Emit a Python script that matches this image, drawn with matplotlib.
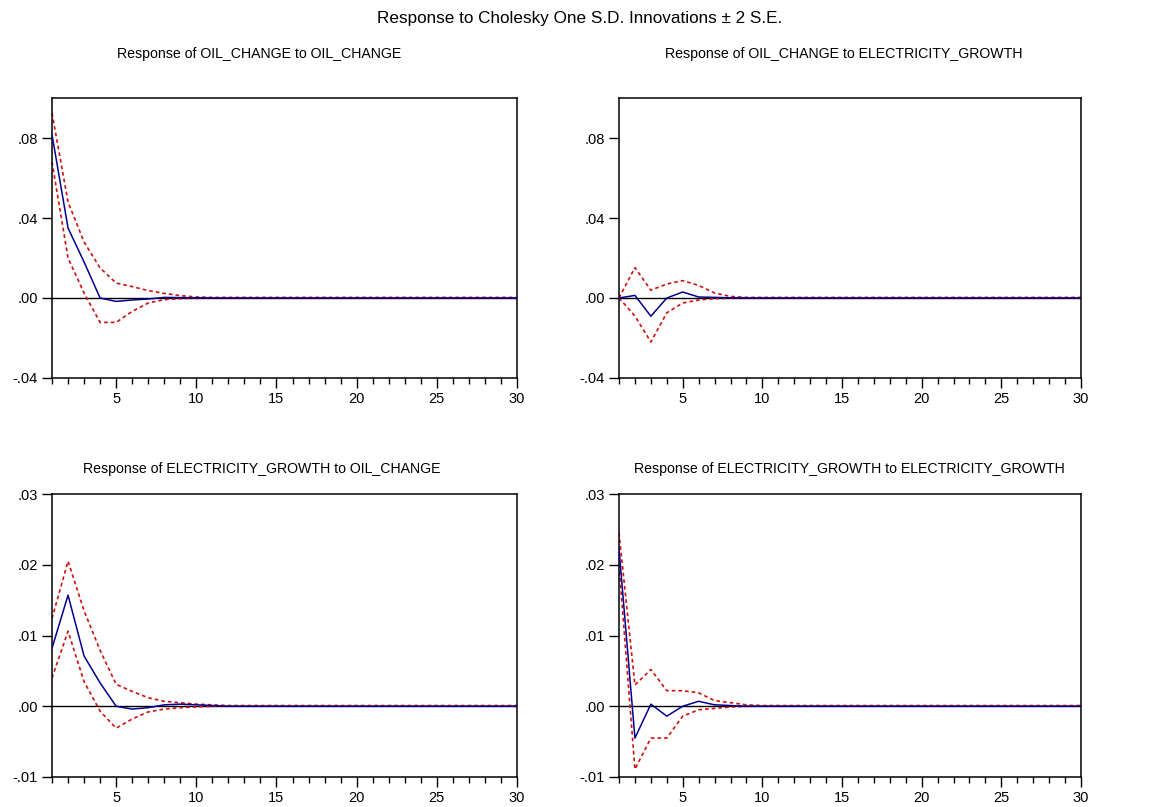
import matplotlib

matplotlib.use("Agg")
import matplotlib.pyplot as plt
from matplotlib.ticker import FixedLocator, MultipleLocator, FuncFormatter

plt.rcParams["font.family"] = ["Liberation Sans", "DejaVu Sans"]

PERIODS = list(range(1, 31))

# Response of OIL_CHANGE to OIL_CHANGE
oil_oil = [0.0817, 0.035, 0.018, 0.0, -0.0017, -0.001, -0.0005, 0.0003, 0.0002, 0.0001] + [0.0] * 20
oil_oil_hi = [0.0925, 0.048, 0.028, 0.015, 0.0075, 0.0057, 0.0037, 0.0023, 0.0012, 0.0005] + [0.0003] * 20
oil_oil_lo = [0.068, 0.02, 0.0025, -0.0122, -0.0122, -0.0067, -0.0025, -0.0008, -0.0003, -0.0001] + [-0.0001] * 20

# Response of OIL_CHANGE to ELECTRICITY_GROWTH
oil_elec = [0.0, 0.0013, -0.0091, 0.0, 0.003, 0.0005, 0.0003, 0.0001] + [0.0] * 22
oil_elec_hi = [0.0, 0.0152, 0.0039, 0.007, 0.0087, 0.0063, 0.0025, 0.0008] + [0.0003] * 22
oil_elec_lo = [0.0, -0.009, -0.022, -0.0074, -0.0025, -0.001, -0.0003, -0.0001] + [-0.0001] * 22

# Response of ELECTRICITY_GROWTH to OIL_CHANGE
elec_oil = [0.0082, 0.0157, 0.0071, 0.0033, 0.0, -0.0004, -0.0002, 0.0002, 0.0003, 0.0002, 0.0001] + [0.0] * 19
elec_oil_hi = [0.0124, 0.0205, 0.0135, 0.0079, 0.0031, 0.0021, 0.0012, 0.0007, 0.0005, 0.0003, 0.0002] + [0.0001] * 19
elec_oil_lo = [0.004, 0.0106, 0.0035, -0.0007, -0.0031, -0.0018, -0.0008, -0.0004, -0.0002, -0.0001, 0.0] + [0.0] * 19

# Response of ELECTRICITY_GROWTH to ELECTRICITY_GROWTH
elec_elec = [0.0223, -0.0045, 0.0003, -0.0014, 0.0, 0.0007, 0.0002, 0.0001] + [0.0] * 22
elec_elec_hi = [0.0245, 0.003, 0.0052, 0.0022, 0.0022, 0.0019, 0.0008, 0.0005, 0.0002] + [0.0001] * 21
elec_elec_lo = [0.020, -0.0089, -0.0045, -0.0045, -0.0014, -0.0005, -0.0003, -0.0001] + [0.0] * 22

PANELS = [
    ("Response of OIL_CHANGE to OIL_CHANGE", oil_oil, oil_oil_hi, oil_oil_lo),
    ("Response of OIL_CHANGE to ELECTRICITY_GROWTH", oil_elec, oil_elec_hi, oil_elec_lo),
    ("Response of ELECTRICITY_GROWTH to OIL_CHANGE", elec_oil, elec_oil_hi, elec_oil_lo),
    ("Response of ELECTRICITY_GROWTH to ELECTRICITY_GROWTH", elec_elec, elec_elec_hi, elec_elec_lo),
]
TOP_YTICKS = [-0.04, 0.0, 0.04, 0.08]
BOTTOM_YTICKS = [-0.01, 0.0, 0.01, 0.02, 0.03]

W, H = 1152, 807
# axes boxes in pixels: left, top, right, bottom
BOXES = [(52, 98, 517, 378), (619, 98, 1081, 378), (52, 494, 517, 777), (619, 494, 1081, 777)]
TITLE_X = [0.445, 0.487, 0.452, 0.498]


def _fmt(v, _pos):
    s = f"{v:.2f}"
    return s.replace("0.", ".", 1)


fig = plt.figure(figsize=(W / 100, H / 100), dpi=100)
fig.text(0.5035, 1 - 18 / H, "Response to Cholesky One S.D. Innovations \u00b1 2 S.E.",
         ha="center", va="center", fontsize=12.3)

for i, (title, resp, hi, lo) in enumerate(PANELS):
    l, t, r, b = BOXES[i]
    ax = fig.add_axes([l / W, 1 - b / H, (r - l) / W, (b - t) / H])
    ax.axhline(0, color="black", lw=1.0, zorder=1)
    ax.plot(PERIODS, hi, color="#d01010", lw=1.2, ls=(0, (2.2, 1.8)), zorder=2)
    ax.plot(PERIODS, lo, color="#d01010", lw=1.2, ls=(0, (2.2, 1.8)), zorder=2)
    ax.plot(PERIODS, resp, color="#000090", lw=1.1, zorder=3)
    ax.set_xlim(1, 30)
    if i < 2:
        ax.set_ylim(-0.04, 0.10)
        ax.yaxis.set_major_locator(FixedLocator(TOP_YTICKS))
    else:
        ax.set_ylim(-0.01, 0.03)
        ax.yaxis.set_major_locator(FixedLocator(BOTTOM_YTICKS))
    ax.yaxis.set_major_formatter(FuncFormatter(_fmt))
    ax.xaxis.set_major_locator(FixedLocator([5, 10, 15, 20, 25, 30]))
    ax.xaxis.set_minor_locator(MultipleLocator(1))
    ax.tick_params(axis="both", which="major", direction="out", length=7, width=1.0,
                   labelsize=10.5, pad=3)
    ax.tick_params(axis="x", which="minor", direction="out", length=4, width=1.0)
    for sp in ax.spines.values():
        sp.set_linewidth(1.1)
    ax.set_title(title, fontsize=10.2, x=TITLE_X[i], pad=29 if i < 2 else 15)

fig.savefig("out.png", dpi=100)
